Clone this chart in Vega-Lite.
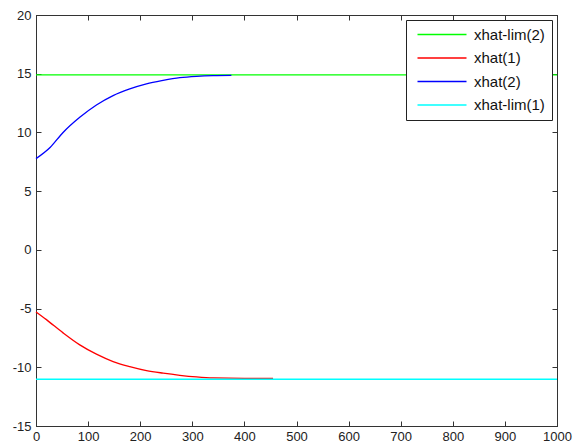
{
  "$schema": "https://vega.github.io/schema/vega-lite/v6.json",
  "autosize": {"type": "none"},
  "width": 521,
  "height": 411,
  "padding": {"left": 36, "top": 15, "right": 18, "bottom": 21},
  "background": "white",
  "config": {
    "view": {"stroke": "#333333", "strokeWidth": 1},
    "font": "Liberation Sans",
    "axis": {
      "grid": false,
      "domainColor": "#333333",
      "tickColor": "#333333",
      "tickSize": -5,
      "labelColor": "#222222",
      "labelFontSize": 13,
      "labelFont": "Liberation Sans",
      "labelExpr": "'' + datum.value",
      "title": null
    }
  },
  "data": {
    "values": [
      {"series": "xhat-lim(2)", "t": 0, "v": 14.9},
      {"series": "xhat-lim(2)", "t": 1000, "v": 14.9},
      {"series": "xhat(1)", "t": 0, "v": -5.28},
      {"series": "xhat(1)", "t": 20, "v": -5.94},
      {"series": "xhat(1)", "t": 52, "v": -7.07},
      {"series": "xhat(1)", "t": 84, "v": -8.09},
      {"series": "xhat(1)", "t": 116, "v": -8.88},
      {"series": "xhat(1)", "t": 148, "v": -9.51},
      {"series": "xhat(1)", "t": 180, "v": -9.94},
      {"series": "xhat(1)", "t": 212, "v": -10.28},
      {"series": "xhat(1)", "t": 244, "v": -10.5},
      {"series": "xhat(1)", "t": 276, "v": -10.68},
      {"series": "xhat(1)", "t": 308, "v": -10.82},
      {"series": "xhat(1)", "t": 340, "v": -10.91},
      {"series": "xhat(1)", "t": 400, "v": -10.95},
      {"series": "xhat(1)", "t": 455, "v": -10.95},
      {"series": "xhat(2)", "t": 0, "v": 7.77},
      {"series": "xhat(2)", "t": 27, "v": 8.72},
      {"series": "xhat(2)", "t": 52, "v": 10.0},
      {"series": "xhat(2)", "t": 84, "v": 11.29},
      {"series": "xhat(2)", "t": 116, "v": 12.34},
      {"series": "xhat(2)", "t": 148, "v": 13.14},
      {"series": "xhat(2)", "t": 180, "v": 13.71},
      {"series": "xhat(2)", "t": 212, "v": 14.14},
      {"series": "xhat(2)", "t": 244, "v": 14.43},
      {"series": "xhat(2)", "t": 276, "v": 14.66},
      {"series": "xhat(2)", "t": 308, "v": 14.78},
      {"series": "xhat(2)", "t": 340, "v": 14.84},
      {"series": "xhat(2)", "t": 375, "v": 14.86},
      {"series": "xhat-lim(1)", "t": 0, "v": -11.02},
      {"series": "xhat-lim(1)", "t": 1000, "v": -11.02}
    ]
  },
  "layer": [
    {
      "mark": {"type": "line", "strokeWidth": 1.3, "interpolate": "monotone"},
      "encoding": {
        "x": {"field": "t", "type": "quantitative", "scale": {"domain": [0, 1000], "nice": false, "zero": false},
              "axis": {"orient": "bottom", "values": [0,100,200,300,400,500,600,700,800,900,1000], "labelPadding": 9, "labelFlush": false}},
        "y": {"field": "v", "type": "quantitative", "scale": {"domain": [-15, 20], "nice": false, "zero": false},
              "axis": {"orient": "left", "values": [-15,-10,-5,0,5,10,15,20], "labelPadding": 10}},
        "color": {
          "field": "series",
          "type": "nominal",
          "sort": ["xhat-lim(2)", "xhat(1)", "xhat(2)", "xhat-lim(1)"],
          "scale": {"domain": ["xhat-lim(2)", "xhat(1)", "xhat(2)", "xhat-lim(1)"], "range": ["#00ff00", "#ff0000", "#0000ff", "#00ffff"]},
          "legend": {
            "title": null,
            "orient": "top-right",
            "offset": 5,
            "symbolType": "M-0.6,0H9.2",
            "symbolSize": 100,
            "symbolStrokeWidth": 1.5,
            "labelFontSize": 15,
            "labelFont": "Liberation Sans",
            "labelColor": "#111111",
            "labelOffset": 46,
            "rowPadding": 7.5,
            "padding": 7,
            "strokeColor": "#222222",
            "fillColor": "white"
          }
        }
      }
    },
    {
      "mark": {"type": "line", "strokeOpacity": 0},
      "encoding": {
        "x": {"field": "t", "type": "quantitative", "axis": {"orient": "top", "labels": false, "values": [0,100,200,300,400,500,600,700,800,900,1000]}},
        "y": {"field": "v", "type": "quantitative", "axis": {"orient": "right", "labels": false, "values": [-15,-10,-5,0,5,10,15,20]}},
        "detail": {"field": "series"}
      }
    }
  ],
  "resolve": {"axis": {"x": "independent", "y": "independent"}}
}
